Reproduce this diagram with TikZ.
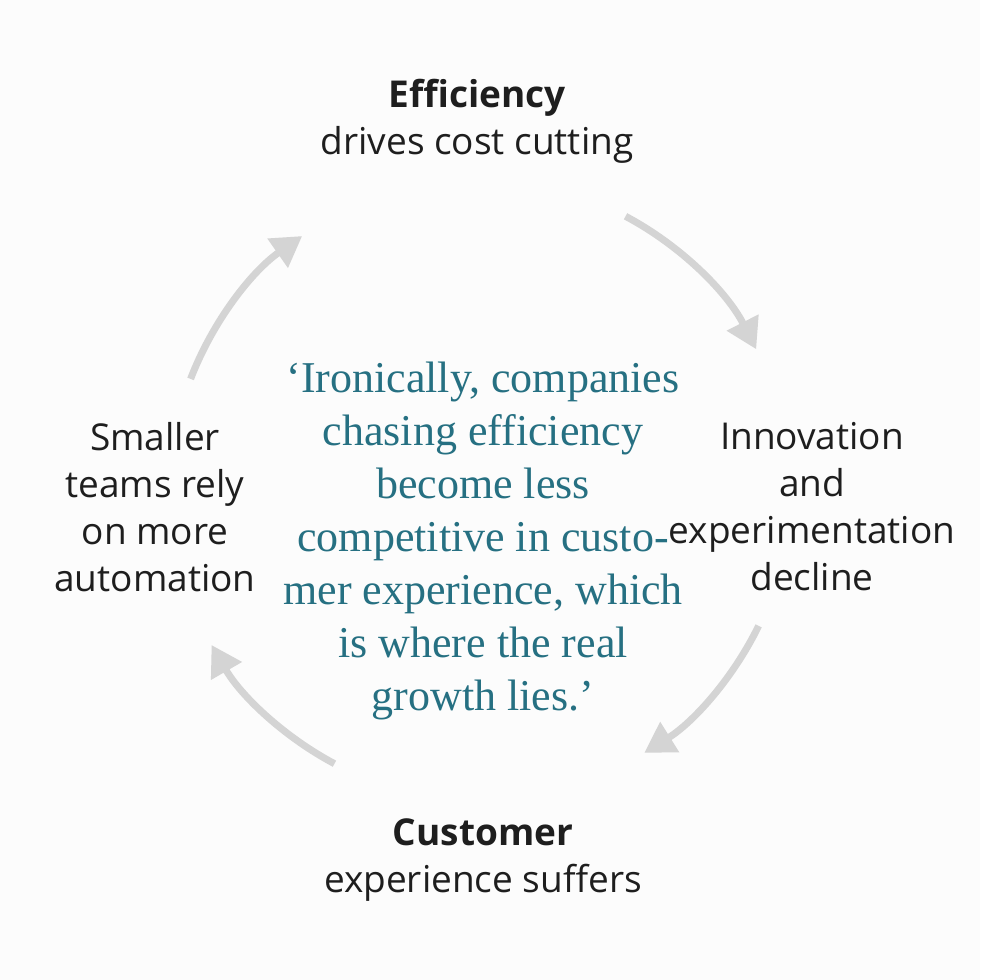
\documentclass[tikz,border=0pt]{standalone}
\usepackage{fontspec}
\setmainfont{Open Sans}
\newfontfamily\quotefont{Liberation Serif}
\usetikzlibrary{arrows.meta}
\definecolor{teal1}{RGB}{38,112,130}
\definecolor{arrowgray}{RGB}{212,212,212}
\definecolor{ink}{RGB}{30,30,30}
\tikzset{
  lbl/.style={align=center, text=ink, font=\fontsize{37}{47}\selectfont},
  cyc/.style={line width=7pt, draw=arrowgray, -{Triangle[length=30pt,width=34pt]}},
  quote/.style={align=center, text=teal1, font=\quotefont\fontsize{44}{53}\selectfont}
}
\begin{document}
\begin{tikzpicture}[x=1pt,y=1pt]
\fill[white!98!gray] (0,0) rectangle (980,980);
\useasboundingbox (0,0) rectangle (980,980);
\coordinate (c) at (480,490);
\node[lbl] (top) at (477,859) {\textbf{Efficiency}\\drives cost cutting};
\node[lbl] (right) at (812,473) {Innovation\\and\\experimentation\\decline};
\node[lbl] (left) at (155,473) {Smaller\\teams rely\\on more\\automation};
\node[lbl] (bottom) at (483,120) {\textbf{Customer}\\experience suffers};
\node[quote] (q) at (483,439) {‘Ironically, companies\\chasing efficiency\\become less\\competitive in custo-\\mer experience, which\\is where the real\\growth lies.’};
\draw[cyc] ([shift={(62:310)}]c) arc[start angle=62,end angle=27,radius=310];
\draw[cyc] ([shift={(-26:310)}]c) arc[start angle=-26,end angle=-58,radius=310];
\draw[cyc] ([shift={(-118:310)}]c) arc[start angle=-118,end angle=-150,radius=310];
\draw[cyc] ([shift={(159:310)}]c) arc[start angle=159,end angle=125,radius=310];
\end{tikzpicture}
\end{document}
